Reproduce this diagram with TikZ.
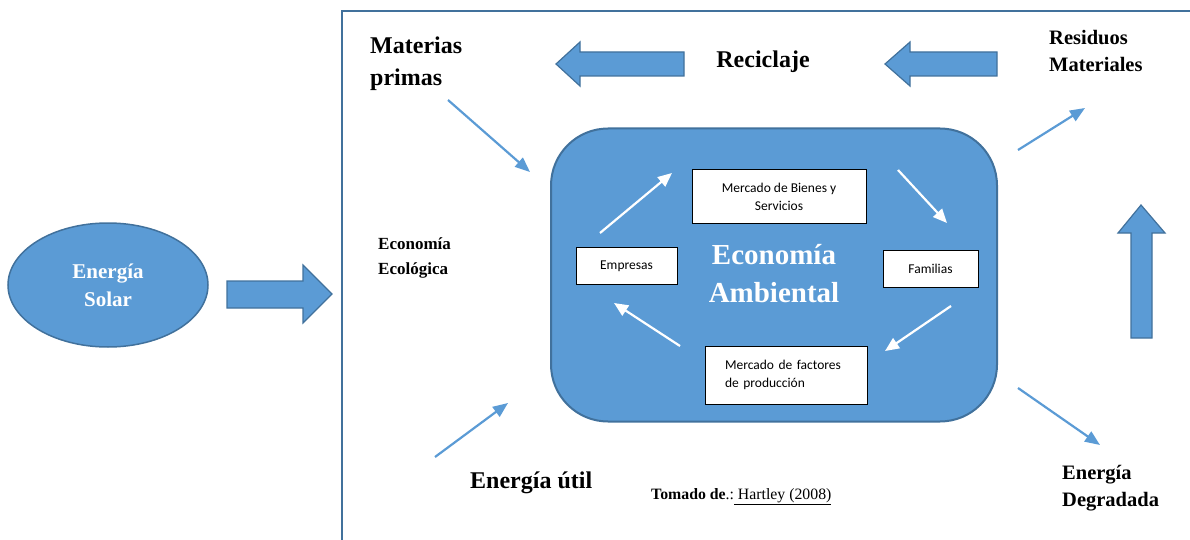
\documentclass[tikz,border=0pt]{standalone}
\usepackage{fontspec}
\setmainfont{Liberation Serif}
\newfontfamily\calib{Carlito}
\usetikzlibrary{shapes.geometric,arrows.meta}
\definecolor{fillblue}{HTML}{5B9BD5}
\definecolor{edgeblue}{HTML}{41719C}
\begin{document}
\begin{tikzpicture}[x=1pt,y=-1pt,
 lblbig/.style={font=\fontsize{24}{32}\selectfont\bfseries, inner sep=0pt, align=left, anchor=west},
 lblmid/.style={font=\fontsize{20.5}{27}\selectfont\bfseries, inner sep=0pt, align=left, anchor=west},
 wbox/.style={draw=black, fill=white, line width=1pt, inner sep=0pt, font=\calib\fontsize{13.5}{18}\selectfont},
 blockarrow/.style={fill=fillblue, draw=edgeblue, line width=1.2pt, line join=miter},
 bluearrow/.style={draw=fillblue, line width=2.2pt, -{Triangle[length=15pt,width=12pt]}},
 whitearrow/.style={draw=white, line width=2.2pt, -{Triangle[length=14pt,width=12pt]}},
]
\useasboundingbox (0,0) rectangle (1190,540);
% frame
\draw[edgeblue, line width=2pt] (342,541) -- (342,11) -- (1191,11);
% sun
\node[ellipse, fill=fillblue, draw=edgeblue, line width=1.5pt, minimum width=200pt, minimum height=124pt, inner sep=0pt, text=white, font=\fontsize{21}{28}\selectfont\bfseries, align=center] (solar) at (108,285) {Energía\\Solar};
% block arrows
\draw[blockarrow] (227,281) -- (303,281) -- (303,265) -- (332,294) -- (303,323) -- (303,308) -- (227,308) -- cycle;
\draw[blockarrow] (684,52) -- (580,52) -- (580,42) -- (556,64) -- (580,86) -- (580,76) -- (684,76) -- cycle;
\draw[blockarrow] (997,52) -- (910,52) -- (910,42) -- (885,64) -- (910,86) -- (910,76) -- (997,76) -- cycle;
\draw[blockarrow] (1131,338) -- (1131,233) -- (1118,233) -- (1141,205) -- (1165,233) -- (1152,233) -- (1152,338) -- cycle;
% central box
\node[draw=edgeblue, fill=fillblue, line width=2pt, rounded corners=57pt, minimum width=446pt, minimum height=293pt] (amb) at (774,275) {};
\node[text=white, font=\fontsize{29}{38}\selectfont\bfseries, align=center, inner sep=0pt] (ea) at (774,274) {Economía\\Ambiental};
\node[wbox, minimum width=174pt, minimum height=53pt, align=center] (bienes) at (779,196.5) {Mercado de Bienes y\\Servicios};
\node[wbox, minimum width=101pt, minimum height=37pt] (empresas) at (626.5,266) {Empresas};
\node[wbox, minimum width=95pt, minimum height=37pt] (familias) at (930.5,268.5) {Familias};
\node[wbox, text width=122pt, inner xsep=20pt, minimum height=58pt, align=left] (factores) at (786,375) {Mercado de factores\\de producción};
% white arrows
\coordinate (w1a) at (600,233); \coordinate (w1b) at (672,173);
\coordinate (w2a) at (898,170); \coordinate (w2b) at (947,223);
\coordinate (w3a) at (951,306); \coordinate (w3b) at (885,351);
\coordinate (w4a) at (680,346); \coordinate (w4b) at (614,303);
\draw[whitearrow] (w1a) -- (w1b);
\draw[whitearrow] (w2a) -- (w2b);
\draw[whitearrow] (w3a) -- (w3b);
\draw[whitearrow] (w4a) -- (w4b);
% labels
\node[lblbig] (materias) at (370,64) {Materias\\primas};
\node[lblbig, anchor=center] (reciclaje) at (763,62) {Reciclaje};
\node[lblmid] (residuos) at (1049,51) {Residuos\\Materiales};
\node[font=\fontsize{17}{25}\selectfont\bfseries, inner sep=0pt, align=left, anchor=west] (ecol) at (378,258) {Economía\\Ecológica};
\node[lblbig] (util) at (470,483) {Energía útil};
\node[lblmid] (degradada) at (1062,488) {Energía\\Degradada};
\node[font=\fontsize{15.8}{18}\selectfont, inner sep=0pt, anchor=west] (tomado) at (651,497) {\textbf{Tomado de}.:\underline{ Hartley (2008)}};
% blue arrows
\coordinate (b1a) at (448,100); \coordinate (b1b) at (530,172);
\coordinate (b2a) at (1018,150); \coordinate (b2b) at (1085,108);
\coordinate (b3a) at (1018,388); \coordinate (b3b) at (1100,445);
\coordinate (b4a) at (435,457); \coordinate (b4b) at (508,403);
\draw[bluearrow] (b1a) -- (b1b);
\draw[bluearrow] (b2a) -- (b2b);
\draw[bluearrow] (b3a) -- (b3b);
\draw[bluearrow] (b4a) -- (b4b);
\end{tikzpicture}
\end{document}
